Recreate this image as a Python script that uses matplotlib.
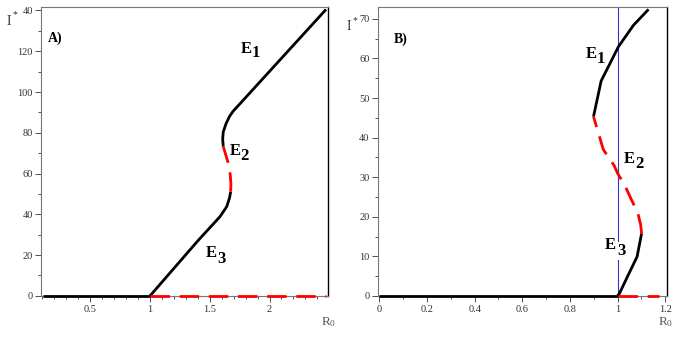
import numpy as np
import matplotlib.pyplot as plt
from matplotlib.ticker import MultipleLocator

plt.rcParams['font.family'] = ['Liberation Serif', 'DejaVu Serif']
plt.rcParams['mathtext.fontset'] = 'custom'
plt.rcParams['mathtext.rm'] = 'Liberation Serif'
plt.rcParams['mathtext.bf'] = 'Liberation Serif:bold'
plt.rcParams['mathtext.it'] = 'Liberation Serif:italic'

# panel A data (R0, I*)
a_zero_r0 = [0.107, 1.0]
a_zero_i = [0, 0]
a_e3_r0 = [1.0, 1.2, 1.4, 1.586, 1.642, 1.665, 1.675]
a_e3_i = [0, 13.5, 27, 38.9, 43.8, 48, 51.1]
a_e2_r0 = [1.675, 1.677, 1.672, 1.665, 1.655, 1.635, 1.613]
a_e2_i = [51.1, 55, 59, 61.8, 65.0, 69, 73.2]
a_e1_r0 = [1.613, 1.608, 1.613, 1.637, 1.665, 1.693, 2.473]
a_e1_i = [73.2, 77, 80.5, 84.6, 88, 90.4, 140.5]
a_red0_r0 = [1.0, 2.473]
a_red0_i = [0, 0]

# panel B data
b_zero_r0 = [0.0, 1.0]
b_zero_i = [0, 0]
b_e3_r0 = [1.0, 1.007, 1.045, 1.082, 1.101]
b_e3_i = [0, 0.5, 5.3, 9.9, 15.8]
b_e2_r0 = [1.101, 1.097, 1.085, 1.059, 1.03, 1.0, 0.986, 0.94, 0.899]
b_e2_i = [15.8, 18, 21, 24.2, 28, 31, 32.9, 37, 45.3]
b_e1_r0 = [0.899, 0.931, 1.004, 1.067, 1.130]
b_e1_i = [45.3, 54.3, 63.0, 68.4, 72.4]
b_red0_r0 = [1.0, 1.176]
b_red0_i = [0, 0]
b_vline = 1.0

W, H = 677, 339
fig = plt.figure(figsize=(6.77, 3.39), dpi=100)
axA = fig.add_axes([0.0606, 0.1254, 0.424, 0.854])
axB = fig.add_axes([0.558, 0.1254, 0.427, 0.854])

blk = dict(color='black', lw=2.0, solid_capstyle='butt')
red = dict(color='red', lw=2.0, dashes=(7, 3.5), dash_capstyle='butt')


def style(ax):
    for s in ['left', 'top', 'bottom']:
        ax.spines[s].set_color('#777777')
        ax.spines[s].set_linewidth(0.8)
    ax.spines['right'].set_color('black')
    ax.spines['right'].set_linewidth(1.0)
    ax.tick_params(which='both', direction='out', colors='#333333', labelsize=7.5,
                   top=False, right=False, width=0.6, pad=2)
    ax.tick_params(which='major', length=4)
    ax.tick_params(which='minor', length=2.5)


def ptext(x, y, s, **kw):
    # x, y in figure pixels from top-left, y = baseline
    return fig.text(x / W, 1 - y / H, s, va='baseline', **kw)


def elabel(x, y, n, dx, dy, box=False):
    kw = dict(fontsize=12, fontweight='bold', zorder=5)
    if box:
        kw['bbox'] = dict(facecolor='white', edgecolor='none', pad=1.0)
    ptext(x, y, 'E', **kw)
    ptext(x + dx, y + dy, n, **kw)


# panel A
axA.plot(a_zero_r0, a_zero_i, clip_on=False, zorder=4, **blk)
axA.plot(a_e3_r0, a_e3_i, **blk)
axA.plot(a_e1_r0, a_e1_i, **blk)
axA.plot(a_e2_r0, a_e2_i, **red)
axA.plot(a_red0_r0, a_red0_i, clip_on=False, zorder=4, **red)
axA.set_xlim(0.088, 2.49)
axA.set_ylim(-0.3, 141.7)
axA.set_xticks([0.5, 1, 1.5, 2])
axA.set_xticklabels(['0.5', '1', '1.5', '2'])
axA.set_yticks([0, 20, 40, 60, 80, 100, 120, 140])
axA.set_yticklabels(['0', '20', '40', '60', '80', '100', '120', '40'])
axA.xaxis.set_minor_locator(MultipleLocator(0.1))
axA.yaxis.set_minor_locator(MultipleLocator(10))
style(axA)
ptext(48, 42, 'A)', fontsize=10, fontweight='bold')
elabel(241, 53, '1', 11, 4)
elabel(230, 155, '2', 10, 5)
elabel(206, 257, '3', 11, 6)
ptext(7, 25, 'I', fontsize=10, color='#333333')
ptext(12.5, 17, '*', fontsize=7, color='#333333')
ptext(321, 325, r'R$_0$', fontsize=9.5, color='#555555')

# panel B
axB.axvline(b_vline, color='#3333cc', lw=0.8, zorder=1)
axB.plot(b_zero_r0, b_zero_i, clip_on=False, zorder=4, **blk)
axB.plot(b_e3_r0, b_e3_i, **blk)
axB.plot(b_e1_r0, b_e1_i, **blk)
axB.plot(b_e2_r0, b_e2_i, **red)
axB.plot(b_red0_r0, b_red0_i, clip_on=False, zorder=4, **red)
axB.set_xlim(-0.007, 1.207)
axB.set_ylim(-0.15, 73)
axB.set_xticks([0, 0.2, 0.4, 0.6, 0.8, 1, 1.2])
axB.set_xticklabels(['0', '0.2', '0.4', '0.6', '0.8', '1', '1.2'])
axB.set_yticks([0, 10, 20, 30, 40, 50, 60, 70])
axB.xaxis.set_minor_locator(MultipleLocator(0.1))
axB.yaxis.set_minor_locator(MultipleLocator(5))
style(axB)
ptext(394, 43, 'B)', fontsize=10, fontweight='bold')
elabel(586, 58, '1', 11, 5)
elabel(624, 163, '2', 11, 5)
elabel(605, 249, '3', 12, 6, box=True)
ptext(347, 30, 'I', fontsize=10, color='#333333')
ptext(352.5, 23, '*', fontsize=7, color='#333333')
ptext(658, 325, r'R$_0$', fontsize=9.5, color='#555555')

fig.savefig('out.png', dpi=100)
